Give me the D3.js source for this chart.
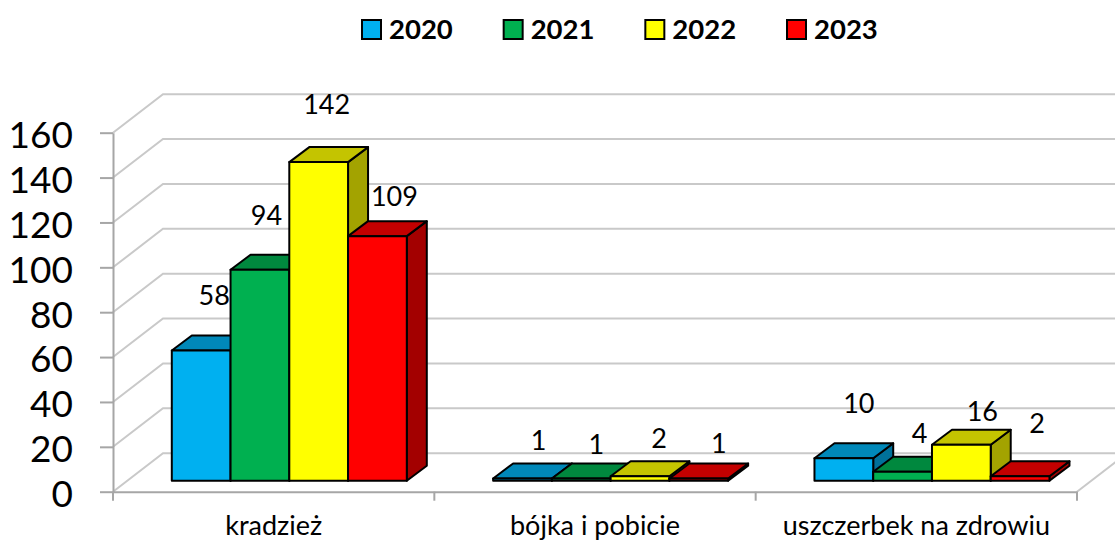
<!DOCTYPE html>
<html>
<head>
<meta charset="utf-8">
<script src="https://cdn.jsdelivr.net/npm/d3@7"></script>
<style>
  html, body { margin: 0; background: #fff; overflow: hidden; }
  text { font-family: Lato, sans-serif; fill: #000; }
</style>
</head>
<body>
<svg id="chart" width="1115" height="542"></svg>
<script>
const categories = ["kradzież", "bójka i pobicie", "uszczerbek na zdrowiu"];
const years = ["2020", "2021", "2022", "2023"];
const values2020 = [58, 1, 10];
const values2021 = [94, 1, 4];
const values2022 = [142, 2, 16];
const values2023 = [109, 1, 2];
const yTicks = [0, 20, 40, 60, 80, 100, 120, 140, 160];

const seriesValues = [values2020, values2021, values2022, values2023];
const colors = ["#00B0F0", "#00B050", "#FFFF00", "#FF0000"];

// hand placed label nudges from the bar's top centre, [dx, dy] per series per category
const labelNudge = [
  [[13, -55], [16, -38], [15, -55]],
  [[6.5, -55], [15, -34], [17, -38]],
  [[8, -58], [19, -38], [21, -34]],
  [[17, -40], [20, -35], [17, -53]]
];

const wall = {dx: 50, dy: -38.5};   // back wall offset
const depth = {dx: 20, dy: -15};    // bar depth
const floorGap = {dx: 0, dy: -11};  // bar base above the front floor edge

let svg = d3.select("#chart");

let xScale = d3.scaleBand().domain(categories).range([113, 1077]);
let yScale = d3.scaleLinear().domain([0, 160]).range([491.7, 132.7]);
let xSeries = d3.scaleBand().domain(years).range([58.8, 293.8]);

function shade(c, k) {
  let r = d3.rgb(c);
  return d3.rgb(r.r * k, r.g * k, r.b * k).formatHex();
}

// walls
let grid = svg.append("g").attr("fill", "none").attr("stroke", "#C9C9C9").attr("stroke-width", 2);
yTicks.forEach(function (t) {
  let y = yScale(t);
  grid.append("path")
    .attr("d", d3.line()([[113, y], [113 + wall.dx, y + wall.dy], [1115, y + wall.dy]]));
});
grid.append("path")
  .attr("d", d3.line()([[1077, yScale(0)], [1077 + wall.dx, yScale(0) + wall.dy]]));

// y axis
let yAxis = d3.axisLeft(yScale).tickValues(yTicks).tickSize(13).tickPadding(27).tickSizeOuter(0);
let yG = svg.append("g").attr("transform", "translate(113,0)").call(yAxis);
yG.selectAll("line, path").attr("stroke", "#A6A6A6").attr("stroke-width", 2);
yG.selectAll("text").attr("font-size", 37).attr("dy", "0.40em").style("font-family", "Lato, sans-serif");

// x axis, ticks sit on the band edges so they are drawn separately from the labels
let xAxis = d3.axisBottom(xScale).tickSize(0).tickPadding(24);
let xG = svg.append("g").attr("transform", "translate(0," + yScale(0) + ")").call(xAxis);
xG.select("path").attr("stroke", "#A6A6A6").attr("stroke-width", 2);
xG.selectAll("text").attr("font-size", 27).style("font-family", "Lato, sans-serif");

let edges = categories.map(d => xScale(d)).concat([xScale.range()[1]]);
svg.append("g").selectAll("line").data(edges).enter().append("line")
  .attr("x1", d => d).attr("x2", d => d)
  .attr("y1", yScale(0)).attr("y2", yScale(0) + 9)
  .attr("stroke", "#A6A6A6").attr("stroke-width", 2);

// bars, left to right so each one covers the side of the previous one
let barsG = svg.append("g").attr("stroke", "#000").attr("stroke-width", 2).attr("stroke-linejoin", "round");
let labelsG = svg.append("g");
let w = xSeries.bandwidth();

categories.forEach(function (cat, ci) {
  years.forEach(function (yr, si) {
    let v = seriesValues[si][ci];
    let x0 = xScale(cat) + xSeries(yr);
    let base = yScale(0) + floorGap.dy;
    let top = yScale(v) + floorGap.dy;
    let c = colors[si];

    barsG.append("path").attr("fill", shade(c, 0.64))
      .attr("d", d3.line()([[x0 + w, base], [x0 + w + depth.dx, base + depth.dy],
        [x0 + w + depth.dx, top + depth.dy], [x0 + w, top]]) + "Z");
    barsG.append("path").attr("fill", shade(c, 0.77))
      .attr("d", d3.line()([[x0, top], [x0 + depth.dx, top + depth.dy],
        [x0 + w + depth.dx, top + depth.dy], [x0 + w, top]]) + "Z");
    barsG.append("rect").attr("fill", c)
      .attr("x", x0).attr("y", top).attr("width", w).attr("height", base - top);

    labelsG.append("text")
      .attr("x", x0 + w / 2 + labelNudge[si][ci][0])
      .attr("y", top + labelNudge[si][ci][1])
      .attr("dy", "0.36em")
      .attr("text-anchor", "middle")
      .attr("font-size", 27)
      .text(v);
  });
});

// legend
let legendX = d3.scalePoint().domain(years).range([362, 787]);
let legend = svg.append("g").selectAll("g").data(years).enter().append("g")
  .attr("transform", d => "translate(" + legendX(d) + ",0)");
legend.append("rect")
  .attr("x", 0).attr("y", 20).attr("width", 19).attr("height", 19)
  .attr("fill", (d, i) => colors[i]).attr("stroke", "#000").attr("stroke-width", 2);
legend.append("text")
  .attr("x", 27).attr("y", 29).attr("dy", "0.36em")
  .attr("font-size", 27.5).attr("font-weight", 700)
  .text(d => d);
</script>
</body>
</html>
